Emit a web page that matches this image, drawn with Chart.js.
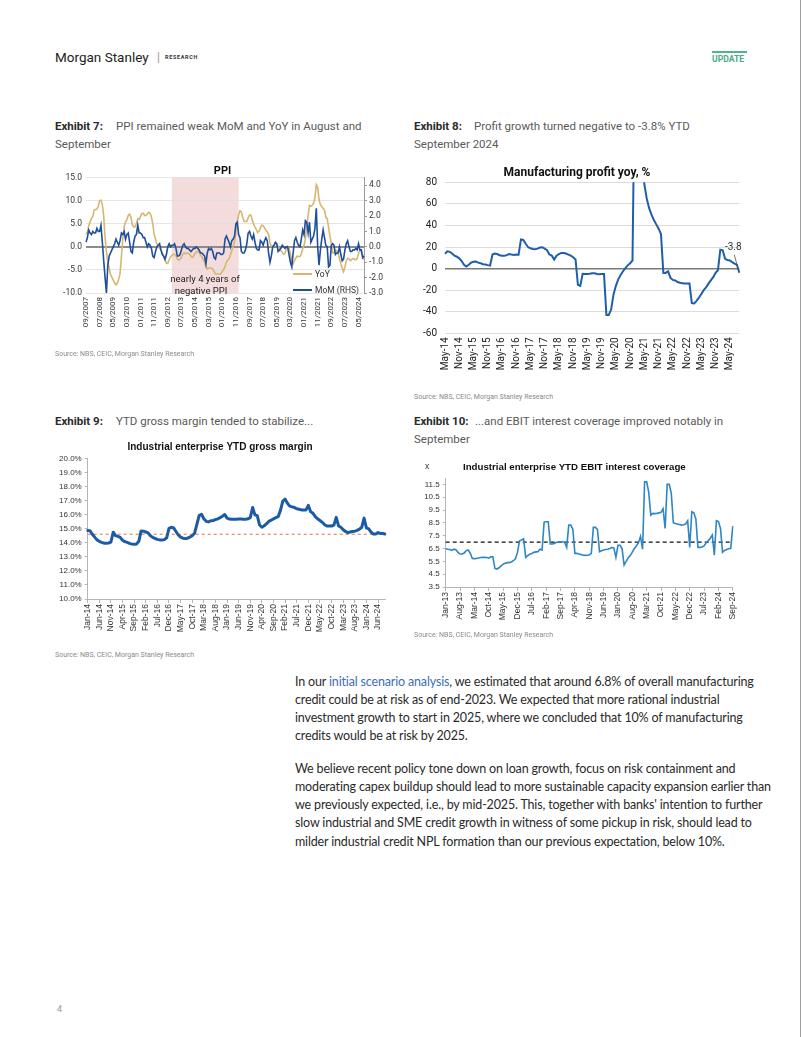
<!DOCTYPE html>
<html><head><meta charset="utf-8">
<script src="https://cdn.jsdelivr.net/npm/chart.js@4.4.1/dist/chart.umd.min.js"></script>
<style>
html,body{margin:0;padding:0;background:#fff;}
body{width:802px;height:1037px;position:relative;overflow:hidden;font-family:Roboto,sans-serif;}
.a{position:absolute;white-space:nowrap;}
.ex{font-size:11.5px;color:#5a5a5a;line-height:16px;}
.exb{font-size:11.5px;color:#2a2a2a;font-weight:700;line-height:16px;}
.src{font-size:7px;color:#8a8a8a;line-height:10px;}
.bt{font-family:Lato,sans-serif;font-size:12.5px;letter-spacing:-0.16px;color:#2a2a2a;line-height:18px;}
.bt a{color:#3f6db4;text-decoration:none;}
canvas{position:absolute;}
</style></head><body>

<!-- header -->
<div class="a" style="left:55px;top:48px;font-size:13.5px;color:#222;line-height:18px;">Morgan Stanley</div>
<div class="a" style="left:157px;top:49px;font-size:12px;color:#999;line-height:16px;">|</div>
<div class="a" style="left:165px;top:53px;font-size:5.5px;font-weight:700;letter-spacing:0.65px;color:#333;line-height:8px;">RESEARCH</div>
<div class="a" style="left:712px;top:50.5px;width:35px;height:2px;background:#4fb58e;"></div>
<div class="a" style="left:712px;top:53.5px;font-size:8.6px;font-weight:700;color:#4daa86;line-height:11px;">UPDATE</div>
<div class="a" style="left:800px;top:0;width:1px;height:1037px;background:#a0a0a0;"></div>

<!-- exhibit titles -->
<div class="a exb" style="left:55px;top:118px;">Exhibit 7:</div>
<div class="a ex" style="left:116px;top:118px;">PPI remained weak MoM and YoY in August and</div>
<div class="a ex" style="left:55px;top:136px;">September</div>

<div class="a exb" style="left:414px;top:118px;">Exhibit 8:</div>
<div class="a ex" style="left:474px;top:118px;">Profit growth turned negative to -3.8% YTD</div>
<div class="a ex" style="left:414px;top:136px;">September 2024</div>

<div class="a exb" style="left:55px;top:413px;">Exhibit 9:</div>
<div class="a ex" style="left:116px;top:413px;">YTD gross margin tended to stabilize...</div>

<div class="a exb" style="left:414px;top:413px;">Exhibit 10:</div>
<div class="a ex" style="left:475px;top:413px;">...and EBIT interest coverage improved notably in</div>
<div class="a ex" style="left:414px;top:431px;">September</div>

<!-- canvases -->
<canvas id="c1" width="335" height="190" style="left:55px;top:160px;"></canvas>
<canvas id="c2" width="332" height="230" style="left:414px;top:160px;"></canvas>
<canvas id="c3" width="335" height="210" style="left:55px;top:438px;"></canvas>
<canvas id="c4" width="330" height="170" style="left:414px;top:470px;"></canvas>

<!-- chart 1 overlays -->
<div class="a" style="left:205px;top:273px;transform:translateX(-50%);font-size:9.5px;color:#222;line-height:11px;">nearly 4 years of</div>
<div class="a" style="left:201px;top:285px;transform:translateX(-50%);font-size:9.5px;color:#222;line-height:11px;">negative PPI</div>
<div class="a" style="left:293px;top:273px;width:19px;height:1.6px;background:#D7B66F;"></div>
<div class="a" style="left:315px;top:269px;font-size:8.5px;color:#333;line-height:10px;">YoY</div>
<div class="a" style="left:293px;top:289px;width:19px;height:2px;background:#1F4E9B;"></div>
<div class="a" style="left:315px;top:285px;font-size:8.5px;color:#333;line-height:10px;">MoM (RHS)</div>

<!-- chart 4 title overlays -->
<div class="a" style="left:425px;top:461px;font-family:'Liberation Sans',Arial,sans-serif;font-size:8.5px;color:#333;line-height:11px;">x</div>
<div class="a" style="left:463px;top:461px;font-family:'Liberation Sans',Arial,sans-serif;font-size:9.7px;font-weight:700;color:#111;line-height:11px;">Industrial enterprise YTD EBIT interest coverage</div>

<!-- sources -->
<div class="a src" style="left:55px;top:349px;">Source: NBS, CEIC, Morgan Stanley Research</div>
<div class="a src" style="left:414px;top:392px;">Source: NBS, CEIC, Morgan Stanley Research</div>
<div class="a src" style="left:55px;top:650px;">Source: NBS, CEIC, Morgan Stanley Research</div>
<div class="a src" style="left:414px;top:630px;">Source: NBS, CEIC, Morgan Stanley Research</div>

<!-- body text -->
<div class="a bt" style="left:295px;top:673px;">In our <a>initial scenario analysis</a>, we estimated that around 6.8% of overall manufacturing</div>
<div class="a bt" style="left:295px;top:691px;">credit could be at risk as of end-2023. We expected that more rational industrial</div>
<div class="a bt" style="left:295px;top:709px;">investment growth to start in 2025, where we concluded that 10% of manufacturing</div>
<div class="a bt" style="left:295px;top:727px;">credits would be at risk by 2025.</div>
<div class="a bt" style="left:295px;top:760px;">We believe recent policy tone down on loan growth, focus on risk containment and</div>
<div class="a bt" style="left:295px;top:778px;">moderating capex buildup should lead to more sustainable capacity expansion earlier than</div>
<div class="a bt" style="left:295px;top:796px;">we previously expected, i.e., by mid-2025. This, together with banks' intention to further</div>
<div class="a bt" style="left:295px;top:814px;">slow industrial and SME credit growth in witness of some pickup in risk, should lead to</div>
<div class="a bt" style="left:295px;top:833px;">milder industrial credit NPL formation than our previous expectation, below 10%.</div>

<div class="a" style="left:57px;top:1004px;font-size:9px;color:#999;">4</div>

<script>
// ---------------- DATA ----------------
const MON = ['Jan','Feb','Mar','Apr','May','Jun','Jul','Aug','Sep','Oct','Nov','Dec'];
function monthLabels(y, m, n, style) {
  const out = [];
  for (let i = 0; i < n; i++) {
    const mm = (m - 1 + i) % 12, yy = y + Math.floor((m - 1 + i) / 12);
    out.push(style === 'num' ? String(mm + 1).padStart(2, '0') + '/' + yy : MON[mm] + '-' + String(yy).slice(2));
  }
  return out;
}

// Exhibit 7: PPI, Sep-2007 .. Sep-2024
const PPI_LABELS = monthLabels(2007, 9, 205, 'num');
const PPI_YOY = [
  2.7,3.2,4.6,5.4,
  6.1,6.6,8.0,8.1,8.2,8.8,10.0,10.1,9.1,6.6,2.0,-1.1,
  -3.3,-4.5,-6.0,-6.6,-7.2,-7.8,-8.2,-7.9,-7.0,-5.8,-2.1,1.7,
  4.3,5.4,5.9,6.8,7.1,6.4,4.8,4.3,4.3,5.0,6.1,5.9,
  6.6,7.2,7.3,6.8,6.8,7.1,7.5,7.3,6.5,5.0,2.7,1.7,
  0.7,0.0,-0.3,-0.7,-1.4,-2.1,-2.9,-3.5,-3.6,-2.8,-2.2,-1.9,
  -1.6,-1.6,-1.9,-2.6,-2.9,-2.7,-2.3,-1.6,-1.3,-1.5,-1.4,-1.4,
  -1.6,-2.0,-2.3,-2.0,-1.4,-1.1,-0.9,-1.2,-1.8,-2.2,-2.7,-3.3,
  -4.3,-4.8,-4.6,-4.6,-4.6,-4.8,-5.4,-5.9,-5.9,-5.9,-5.9,-5.9,
  -5.3,-4.9,-4.3,-3.4,-2.8,-2.6,-1.7,-0.8,0.1,1.2,3.3,5.5,
  6.9,7.8,7.6,6.4,5.5,5.5,5.5,6.3,6.9,6.9,5.8,4.9,
  4.3,3.7,3.1,3.4,4.1,4.7,4.6,4.1,3.6,3.3,2.7,0.9,
  0.1,0.1,0.4,0.9,0.6,0.0,-0.3,-0.8,-1.2,-1.6,-1.4,-0.5,
  0.1,-0.4,-1.5,-3.1,-3.7,-3.0,-2.4,-2.0,-2.1,-2.1,-1.5,-0.4,
  0.3,1.7,4.4,6.8,9.0,8.8,9.0,9.5,10.7,13.5,12.9,10.3,
  9.1,8.8,8.3,8.0,6.4,6.1,4.2,2.3,0.9,-1.3,-1.3,-0.7,
  -0.8,-1.4,-2.5,-3.6,-4.6,-5.4,-4.4,-3.0,-2.5,-2.6,-3.0,-2.7,
  -2.5,-2.7,-2.8,-2.5,-1.4,-0.8,-0.8,-1.8,-2.8
];
const PPI_MOM = [
  0.3,0.6,1.1,0.9,
  0.8,1.0,0.9,0.9,1.2,1.0,1.0,1.4,0.3,-0.9,-2.0,-3.0,
  -1.2,-0.6,-0.4,-0.2,0.0,0.2,0.5,0.3,0.1,0.4,0.9,0.8,
  1.0,0.5,0.8,0.9,0.3,-0.3,-0.4,0.3,0.7,0.8,1.4,0.9,
  0.9,0.8,0.6,0.6,0.3,0.0,0.2,0.1,-0.1,-0.6,-0.7,-0.3,
  0.0,0.1,0.2,-0.2,-0.5,-0.6,-0.8,-0.5,0.0,0.2,0.0,0.1,
  0.1,0.2,-0.1,-0.6,-0.6,-0.5,-0.2,0.1,0.2,0.0,-0.1,-0.1,
  -0.2,-0.3,-0.2,-0.1,-0.1,0.0,-0.1,-0.2,-0.4,-0.4,-0.5,-0.6,
  -1.1,-0.4,-0.1,-0.2,-0.1,-0.3,-0.7,-0.8,-0.4,-0.4,-0.4,-0.5,
  -0.5,-0.4,0.5,0.7,0.5,0.3,0.0,0.4,0.5,0.7,1.5,1.6,
  0.8,0.6,-0.3,-0.4,-0.4,-0.2,0.2,0.9,1.0,0.7,0.5,0.8,
  0.3,-0.1,-0.2,-0.2,0.4,0.3,0.1,0.4,0.6,0.4,-0.4,-1.0,
  -0.6,0.0,0.1,0.3,0.2,-0.3,-0.2,-0.1,0.1,0.0,-0.1,0.0,
  0.0,-0.5,-1.0,-1.3,-0.4,0.4,0.6,0.3,0.1,0.0,0.5,1.1,
  0.8,1.7,1.6,0.9,1.6,0.3,0.5,0.7,1.2,2.5,0.0,-1.2,
  -0.2,0.5,1.1,0.6,0.1,0.0,-1.3,-1.2,0.1,0.2,0.1,-0.5,
  -0.4,-0.4,0.0,-0.5,-0.9,-0.8,-0.2,0.2,0.4,0.0,-0.3,-0.3,
  -0.2,-0.2,-0.1,-0.2,0.2,-0.2,-0.2,-0.7,-0.6
];
const PPI_LEFT_TICKS = [-10, -5, 0, 5, 10, 15];
const PPI_RIGHT_TICKS = [-3, -2, -1, 0, 1, 2, 3, 4];
const PPI_SHADE = ['12/2012', '01/2017'];
const PPI_X_STEP = 10;

// Exhibit 8: Manufacturing profit yoy, May-2014 .. Sep-2024
const PROFIT_LABELS = monthLabels(2014, 5, 125, 'mon');
const PROFIT = [
  13.8,16,15.5,14,12,11,9.5,7,3.5,2,3.5,5.5,
  6.3,6.5,5.5,5,4,3.7,3.2,2.8,13,14,13.5,12.4,
  12,11.8,12.5,13.5,13,12.6,13,12.8,27,26.5,23,20,
  18.8,18.2,18,18.5,19.5,19.8,18.5,17,13,12,8.3,12,
  13.5,14.5,14.5,14,13,12,10.5,8.5,-15,-16,-4.8,-5,
  -5,-4.8,-4.3,-4.3,-5,-5.2,-5,-5,-43,-43,-38,-24,
  -16,-10,-6,-2.5,0.5,3,5,7.5,190,190,150,110,
  78,65,56,50,45,41,37,32,-4,-4,-2.5,-8.6,
  -10.5,-11,-12.5,-13.2,-13.5,-13.8,-13.8,-13.8,-32,-32.3,-30,-27,
  -23.5,-20,-17.5,-14,-11,-8,-4,-1.5,17.5,17,9,8,
  7.5,6,4.6,3.5,-3.8
];
const PROFIT_TICKS = [-60, -40, -20, 0, 20, 40, 60, 80];
const PROFIT_X_STEP = 6;
const PROFIT_NOTE = '-3.8';

// Exhibit 9: YTD gross margin (%), Jan-2014 .. Sep-2024
const GM_LABELS = monthLabels(2014, 1, 129, 'mon');
const GM = [
  14.86,14.85,14.6,14.4,14.2,14.1,14.03,13.97,13.96,13.98,14.05,14.75,
  14.5,14.45,14.38,14.18,14.08,14.02,13.95,13.9,13.89,13.9,14.1,14.84,
  14.82,14.76,14.7,14.5,14.38,14.3,14.24,14.2,14.2,14.22,14.35,15.02,
  15.1,15.05,14.8,14.55,14.4,14.32,14.29,14.32,14.4,14.5,14.67,15.3,
  15.95,16.02,15.7,15.52,15.48,15.56,15.58,15.64,15.7,15.78,15.88,16.0,
  15.75,15.68,15.66,15.66,15.66,15.68,15.69,15.67,15.66,15.7,15.78,16.5,
  15.98,15.92,15.26,15.1,15.2,15.35,15.52,15.6,15.7,15.78,15.85,16.3,
  16.95,17.1,16.8,16.6,16.55,16.5,16.42,16.38,16.33,16.32,16.33,16.65,
  16.2,16.09,15.85,15.7,15.58,15.45,15.28,15.19,15.19,15.19,15.25,15.8,
  15.19,15.1,14.92,14.8,14.72,14.76,14.8,14.82,14.88,14.96,15.1,15.75,
  15.05,14.98,14.75,14.62,14.62,14.72,14.66,14.66,14.62
];
const GM_TICKS = [10, 11, 12, 13, 14, 15, 16, 17, 18, 19, 20];
const GM_REF = 14.6;
const GM_X_STEP = 5;

// Exhibit 10: YTD EBIT interest coverage (x), Jan-2013 .. Sep-2024
const EBIT_LABELS = monthLabels(2013, 1, 141, 'mon');
const EBIT = [
  6.49,6.45,6.42,6.35,6.45,6.4,6.2,6.07,6.07,6.15,6.33,6.38,
  6.12,5.72,5.71,5.73,5.76,5.8,5.81,5.81,5.8,5.75,5.85,5.85,
  4.95,4.9,5.0,5.15,5.28,5.35,5.4,5.4,5.45,5.55,5.7,6.2,
  7.1,7.16,7.25,5.81,5.95,6.05,6.12,6.2,6.24,6.25,6.44,6.38,
  8.55,8.59,8.59,6.85,6.85,6.9,6.98,7.0,7.03,7.03,7.0,6.6,
  8.33,8.33,8.0,6.12,6.12,6.08,6.03,5.98,5.97,5.98,6.0,6.12,
  8.15,8.15,8.0,6.25,6.33,6.38,6.42,6.44,6.5,6.57,6.55,5.81,
  6.75,6.75,6.5,5.21,5.5,5.78,5.95,6.22,6.5,6.7,6.95,7.45,
  6.44,11.7,11.7,10.9,9.1,9.24,9.22,9.24,9.28,9.32,9.6,8.07,
  11.5,11.5,10.8,8.51,8.45,8.41,8.38,8.33,8.35,8.41,8.67,6.59,
  9.37,9.29,8.8,6.59,6.59,6.62,6.7,6.95,7.1,7.3,7.55,5.99,
  8.67,8.6,8.07,6.2,6.35,6.42,6.48,6.51,8.25
];
const EBIT_TICKS = [3.5, 4.5, 5.5, 6.5, 7.5, 8.5, 9.5, 10.5, 11.5];
const EBIT_REF = 7.0;
const EBIT_X_STEP = 7;

// ---------------- HELPERS ----------------
Chart.defaults.font.family = 'Roboto';
Chart.defaults.animation = false;
const fixTicks = arr => s => { s.ticks = arr.map(v => ({ value: v })); };
const everyN = n => s => { s.ticks = s.ticks.filter((t, i) => i % n === 0); };
const baseOpts = () => ({
  responsive: false, animation: false, devicePixelRatio: 1,
  plugins: { legend: { display: false }, tooltip: { enabled: false } },
  elements: { point: { radius: 0 }, line: { tension: 0 } }
});

// shaded period plugin
const shadePlugin = {
  id: 'shade',
  beforeDraw(chart) {
    const { ctx, chartArea, scales } = chart;
    const x0 = scales.x.getPixelForValue(PPI_LABELS.indexOf(PPI_SHADE[0]));
    const x1 = scales.x.getPixelForValue(PPI_LABELS.indexOf(PPI_SHADE[1]));
    ctx.save();
    ctx.fillStyle = 'rgba(236,196,196,0.6)';
    ctx.fillRect(x0, chartArea.top, x1 - x0, chartArea.bottom - chartArea.top);
    ctx.restore();
  }
};
const refLine = (value, color, dash, width) => ({
  id: 'ref' + value,
  beforeDatasetsDraw(chart) {
    const { ctx, chartArea, scales } = chart;
    const y = scales.y.getPixelForValue(value);
    ctx.save();
    ctx.strokeStyle = color; ctx.lineWidth = width; ctx.setLineDash(dash);
    ctx.beginPath(); ctx.moveTo(chartArea.left, y); ctx.lineTo(chartArea.right, y); ctx.stroke();
    ctx.restore();
  }
});
const noteLabel = {
  id: 'note',
  afterDatasetsDraw(chart) {
    const { ctx, scales } = chart;
    const n = PROFIT.length - 1;
    const x = scales.x.getPixelForValue(n), y = scales.y.getPixelForValue(PROFIT[n]);
    ctx.save();
    ctx.strokeStyle = '#555'; ctx.lineWidth = 0.8;
    ctx.beginPath(); ctx.moveTo(x - 1, y - 3); ctx.lineTo(x - 5, y - 18); ctx.stroke();
    ctx.fillStyle = '#333'; ctx.font = '10px Roboto'; ctx.textAlign = 'center'; ctx.textBaseline = 'middle';
    ctx.fillText(PROFIT_NOTE, x - 6, y - 25);
    ctx.restore();
  }
};

// ---------------- CHART 1: PPI ----------------
(() => {
  const o = baseOpts();
  o.plugins.title = { display: true, text: 'PPI', color: '#111', font: { size: 11, weight: 'bold' }, padding: { top: 4.4, bottom: 0 } };
  o.layout = { padding: 0 };
  o.scales = {
    x: { offset: false, grid: { display: false, drawTicks: false }, border: { display: false },
      ticks: { autoSkip: false, minRotation: 90, maxRotation: 90, color: '#333', font: { size: 8 }, padding: 4 },
      afterBuildTicks: everyN(PPI_X_STEP), afterFit: s => { s.height = 57; } },
    y: { position: 'left', min: -10, max: 15, afterBuildTicks: fixTicks(PPI_LEFT_TICKS),
      ticks: { callback: v => v.toFixed(1), color: '#333', font: { size: 8.5 }, padding: 4 },
      grid: { drawTicks: false, color: c => c.tick && c.tick.value === 0 ? '#8c8c8c' : '#dedede', lineWidth: c => c.tick && c.tick.value === 0 ? 2 : 0.8 },
      border: { display: false }, afterFit: s => { s.width = 31; } },
    y1: { position: 'right', min: -3, max: 4.5, afterBuildTicks: fixTicks(PPI_RIGHT_TICKS),
      ticks: { callback: v => v.toFixed(1), color: '#333', font: { size: 8.5 }, padding: 2 },
      grid: { drawOnChartArea: false, drawTicks: true, tickLength: 3, color: '#9a9a9a' },
      border: { display: true, color: '#9a9a9a' }, afterFit: s => { s.width = 26; } }
  };
  new Chart(document.getElementById('c1'), {
    type: 'line',
    data: { labels: PPI_LABELS, datasets: [
      { label: 'YoY', data: PPI_YOY, yAxisID: 'y', borderColor: '#D7B66F', borderWidth: 1.6, order: 2 },
      { label: 'MoM (RHS)', data: PPI_MOM, yAxisID: 'y1', borderColor: '#1F4E9B', borderWidth: 1.6, order: 1 }
    ] },
    options: o, plugins: [shadePlugin]
  });
})();

// ---------------- CHART 2: Profit ----------------
(() => {
  const o = baseOpts();
  o.plugins.title = { display: true, text: 'Manufacturing profit yoy, %', color: '#111', font: { size: 12, weight: 'bold' }, padding: { top: 6.1, bottom: 1.8 } };
  o.layout = { padding: { right: 6 } };
  o.scales = {
    x: { offset: false, grid: { display: false, drawTicks: false }, border: { display: false },
      ticks: { autoSkip: false, minRotation: 90, maxRotation: 90, color: '#222', font: { size: 10 }, padding: 4 },
      afterBuildTicks: everyN(PROFIT_X_STEP), afterFit: s => { s.height = 56.7; } },
    y: { min: -60, max: 80, afterBuildTicks: fixTicks(PROFIT_TICKS),
      ticks: { color: '#222', font: { size: 10 }, padding: 8 },
      grid: { drawTicks: false, color: c => c.tick && c.tick.value === 0 ? '#7a7a7a' : '#dcdcdc', lineWidth: c => c.tick && c.tick.value === 0 ? 1.5 : 1 },
      border: { display: false }, afterFit: s => { s.width = 31; } }
  };
  new Chart(document.getElementById('c2'), {
    type: 'line',
    data: { labels: PROFIT_LABELS, datasets: [
      { label: 'Manufacturing profit yoy', data: PROFIT, borderColor: '#1F5FA8', borderWidth: 2 }
    ] },
    options: o, plugins: [noteLabel]
  });
})();

// ---------------- CHART 3: Gross margin ----------------
(() => {
  const o = baseOpts();
  const F = "'Liberation Sans', Arial, sans-serif";
  o.plugins.title = { display: true, text: 'Industrial enterprise YTD gross margin', color: '#111', font: { family: F, size: 10, weight: 'bold' }, padding: { top: 3.3, bottom: 5 } };
  o.layout = { padding: { right: 5 } };
  o.scales = {
    x: { offset: false, grid: { drawOnChartArea: false, drawTicks: true, tickLength: 4, color: '#b5b5b5' }, border: { display: true, color: '#b5b5b5' },
      ticks: { autoSkip: false, minRotation: 90, maxRotation: 90, color: '#333', font: { family: F, size: 8.5 }, padding: 1 },
      afterBuildTicks: everyN(GM_X_STEP), afterFit: s => { s.height = 49; } },
    y: { min: 10, max: 20, afterBuildTicks: fixTicks(GM_TICKS),
      ticks: { callback: v => v.toFixed(1) + '%', color: '#333', font: { family: F, size: 8 }, padding: 3 },
      grid: { drawOnChartArea: false, drawTicks: true, tickLength: 3, color: '#b5b5b5' },
      border: { display: true, color: '#b5b5b5' }, afterFit: s => { s.width = 32.7; } }
  };
  new Chart(document.getElementById('c3'), {
    type: 'line',
    data: { labels: GM_LABELS, datasets: [
      { label: 'Gross margin', data: GM, borderColor: '#1B5BA6', borderWidth: 3, borderJoinStyle: 'round', borderCapStyle: 'round' }
    ] },
    options: o, plugins: [refLine(GM_REF, '#E9866A', [3, 3], 1.2)]
  });
})();

// ---------------- CHART 4: EBIT coverage ----------------
(() => {
  const o = baseOpts();
  const F = "'Liberation Sans', Arial, sans-serif";
  o.layout = { padding: { top: 8, right: 7.3 } };
  o.scales = {
    x: { offset: false, grid: { drawOnChartArea: false, drawTicks: true, tickLength: 4, color: '#b5b5b5' }, border: { display: true, color: '#b5b5b5' },
      ticks: { autoSkip: false, minRotation: 90, maxRotation: 90, color: '#333', font: { family: F, size: 8.5 }, padding: 1 },
      afterBuildTicks: everyN(EBIT_X_STEP), afterFit: s => { s.height = 53; } },
    y: { min: 3.5, max: 12, afterBuildTicks: fixTicks(EBIT_TICKS),
      ticks: { callback: v => v.toFixed(1), color: '#333', font: { family: F, size: 8 }, padding: 3 },
      grid: { drawOnChartArea: false, drawTicks: true, tickLength: 3, color: '#b5b5b5' },
      border: { display: true, color: '#b5b5b5' }, afterFit: s => { s.width = 31.7; } }
  };
  new Chart(document.getElementById('c4'), {
    type: 'line',
    data: { labels: EBIT_LABELS, datasets: [
      { label: 'EBIT interest coverage', data: EBIT, borderColor: '#2F86C4', borderWidth: 1.6 }
    ] },
    options: o, plugins: [refLine(EBIT_REF, '#111', [4, 3], 1.2)]
  });
})();
</script>
</body></html>
